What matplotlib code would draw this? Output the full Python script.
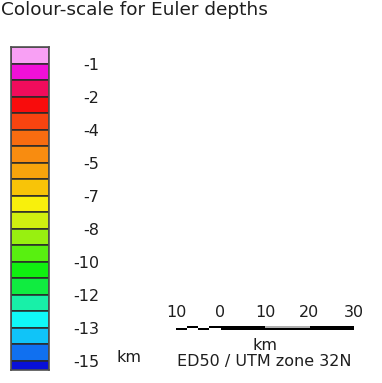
import matplotlib
matplotlib.use("Agg")
import matplotlib.pyplot as plt

# colour cells of the depth scale, top (shallow) to bottom (deep)
cell_colors = ['#f8a0f4', '#f010d8', '#f00c5c', '#f80c0c', '#f84410',
               '#f86c10', '#f88c10', '#f8a40c', '#f8c408', '#f8f00c',
               '#d0f010', '#98f010', '#58f010', '#10f010', '#10ec40',
               '#18f0a8', '#10f8f8', '#10c4f8', '#1070f0', '#0810d8']
depth_labels = ['-1', '-2', '-4', '-5', '-7', '-8', '-10', '-12', '-13', '-15']

# scale bar (km)
bar_ticks = [-10, 0, 10, 20, 30]
bar_tick_labels = ['10', '0', '10', '20', '30']
main_left = [0, 10, 20]
main_colors = ['black', '#b0b0b0', 'black']
sub_left = [-10, -7.5, -5, -2.5]

plt.rcParams['font.family'] = ['DejaVu Sans']
W, H = 382, 383
fig = plt.figure(figsize=(W / 100, H / 100), dpi=100)

def px_axes(x0, y0, x1, y1):
    return fig.add_axes([x0 / W, 1 - y1 / H, (x1 - x0) / W, (y1 - y0) / H])

fig.text(1 / W, 1 - 15 / H, 'Colour-scale for Euler depths', fontsize=13.3,
         color='#1e1e1e', ha='left', va='baseline')

# colour scale
ax = px_axes(11, 47, 49, 370)
n = len(cell_colors)
idx = list(range(n))
ax.bar([0.5] * n, [1] * n, width=1, bottom=idx, color=cell_colors,
       edgecolor='#2a2a2a', linewidth=1.1)
ax.set_xlim(0, 1)
ax.set_ylim(n - 0.45, 0)
ax.set_xticks([])
ax.yaxis.tick_right()
ax.set_yticks(idx[1::2], depth_labels)
ax.tick_params(axis='y', length=0, pad=36, labelsize=11.5, labelcolor='#1e1e1e')
for lab in ax.get_yticklabels():
    lab.set_horizontalalignment('right')
for s in ax.spines.values():
    s.set_color('#505050')
    s.set_linewidth(1.2)
fig.text(117 / W, 1 - 358 / H, 'km', fontsize=11.5, color='#1e1e1e',
         ha='left', va='center')

# scale bar
sb = px_axes(176, 326, 354, 330)
sb.set_xlim(bar_ticks[0], bar_ticks[-1])
sb.set_ylim(0, 1)
sb.barh([0.5] * 3, [10] * 3, left=main_left, height=1, color=main_colors)
sb.barh([0.25] * 3, [10] * 3, left=main_left, height=0.5, color='black')
for i, x in enumerate(sub_left):
    sb.barh(0.25 if i % 2 == 0 else 0.75, 2.5, left=x, height=0.5, color='black')
sb.set_yticks([])
sb.set_xticks(bar_ticks, bar_tick_labels)
sb.xaxis.tick_top()
sb.tick_params(axis='x', length=0, pad=4, labelsize=11.5, labelcolor='#1e1e1e')
for s in sb.spines.values():
    s.set_visible(False)

fig.text(265 / W, 1 - 350 / H, 'km', fontsize=11.5, color='#1e1e1e',
         ha='center', va='baseline')
fig.text(264 / W, 1 - 366 / H, 'ED50 / UTM zone 32N', fontsize=11.5,
         color='#1e1e1e', ha='center', va='baseline')

fig.savefig('out.png', dpi=100)
